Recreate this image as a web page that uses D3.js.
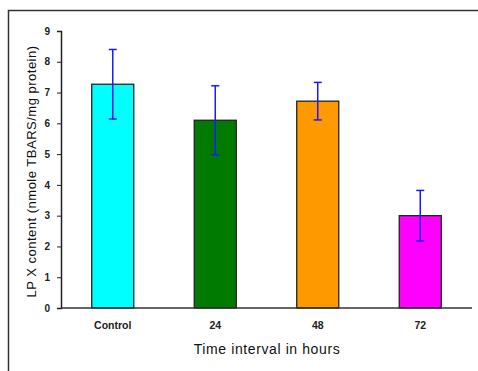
<!DOCTYPE html>
<html lang="en">
<head>
  <meta charset="UTF-8">
  <title>LPX content</title>
  <script src="https://d3js.org/d3.v7.min.js"></script>
  <style>
    body { margin: 0; background: #fff; }
    svg { display: block; font-family: "Liberation Sans", Arial, sans-serif; }
  </style>
</head>
<body>
  <div id="chart"></div>
  <script>
    // data
    const groups = ["Control", "24", "48", "72"];
    const means = [7.27, 6.1, 6.72, 3.0];
    const errors = [1.13, 1.12, 0.61, 0.82];
    const colors = ["#00ffff", "#007a00", "#ff9900", "#ff00ff"];
    const yTicks = [0, 1, 2, 3, 4, 5, 6, 7, 8, 9];

    const width = 478, height = 371;
    const margin = { top: 31, right: 6, bottom: 63, left: 61 };

    const svg = d3.select("#chart").append("svg")
      .attr("width", width)
      .attr("height", height);

    // outer frame: only top and left edges show
    svg.append("path")
      .attr("d", `M8.5,${height} V10.5 H${width}`)
      .attr("fill", "none")
      .attr("stroke", "#333")
      .attr("stroke-width", 1.5);

    const x = d3.scaleBand()
      .domain(groups)
      .range([margin.left, width - margin.right])
      .paddingInner(0.59)
      .paddingOuter(0.3);

    const y = d3.scaleLinear()
      .domain([0, 9])
      .range([height - margin.bottom, margin.top]);

    // y axis
    const yAxis = svg.append("g")
      .attr("transform", `translate(${margin.left},0)`)
      .call(d3.axisLeft(y).tickValues(yTicks).tickSize(4).tickPadding(7));
    yAxis.select(".domain").attr("stroke", "#222").attr("stroke-width", 1.5);
    yAxis.selectAll(".tick line").attr("stroke", "#222").attr("stroke-width", 1);
    yAxis.selectAll("text")
      .attr("font-size", 10)
      .attr("font-weight", "bold")
      .attr("fill", "#222");

    // bars
    svg.append("g").selectAll("rect")
      .data(groups)
      .join("rect")
      .attr("x", d => x(d))
      .attr("y", (d, i) => y(means[i]))
      .attr("width", x.bandwidth())
      .attr("height", (d, i) => y(0) - y(means[i]))
      .attr("fill", (d, i) => colors[i])
      .attr("stroke", "#222")
      .attr("stroke-width", 1.3);

    // x axis line drawn after bars so it sits on top
    svg.append("line")
      .attr("x1", margin.left).attr("x2", width - margin.right)
      .attr("y1", y(0)).attr("y2", y(0))
      .attr("stroke", "#333")
      .attr("stroke-width", 1.5);

    // error bars
    const eb = svg.append("g").attr("stroke", "#1a1aff").attr("stroke-width", 1.5);
    groups.forEach((g, i) => {
      const cx = x(g) + x.bandwidth() / 2;
      const top = y(means[i] + errors[i]);
      const bot = y(means[i] - errors[i]);
      eb.append("line").attr("x1", cx).attr("x2", cx).attr("y1", top).attr("y2", bot);
      eb.append("line").attr("x1", cx - 4).attr("x2", cx + 4).attr("y1", top).attr("y2", top);
      eb.append("line").attr("x1", cx - 4).attr("x2", cx + 4).attr("y1", bot).attr("y2", bot);
    });

    // category labels
    svg.append("g").selectAll("text")
      .data(groups)
      .join("text")
      .attr("x", d => x(d) + x.bandwidth() / 2)
      .attr("y", y(0) + 21)
      .attr("text-anchor", "middle")
      .attr("font-size", 10.5)
      .attr("font-weight", "bold")
      .attr("fill", "#222")
      .text(d => d);

    // axis titles
    svg.append("text")
      .attr("x", 267)
      .attr("y", 354)
      .attr("text-anchor", "middle")
      .attr("font-size", 14)
      .attr("letter-spacing", 0.6)
      .attr("fill", "#111")
      .text("Time interval in hours");

    svg.append("text")
      .attr("transform", `translate(36,${(y(0) + y(9)) / 2 + 2}) rotate(-90)`)
      .attr("text-anchor", "middle")
      .attr("font-size", 13)
      .attr("letter-spacing", 0.5)
      .attr("fill", "#111")
      .text("LP X content (nmole TBARS/mg protein)");
  </script>
</body>
</html>
